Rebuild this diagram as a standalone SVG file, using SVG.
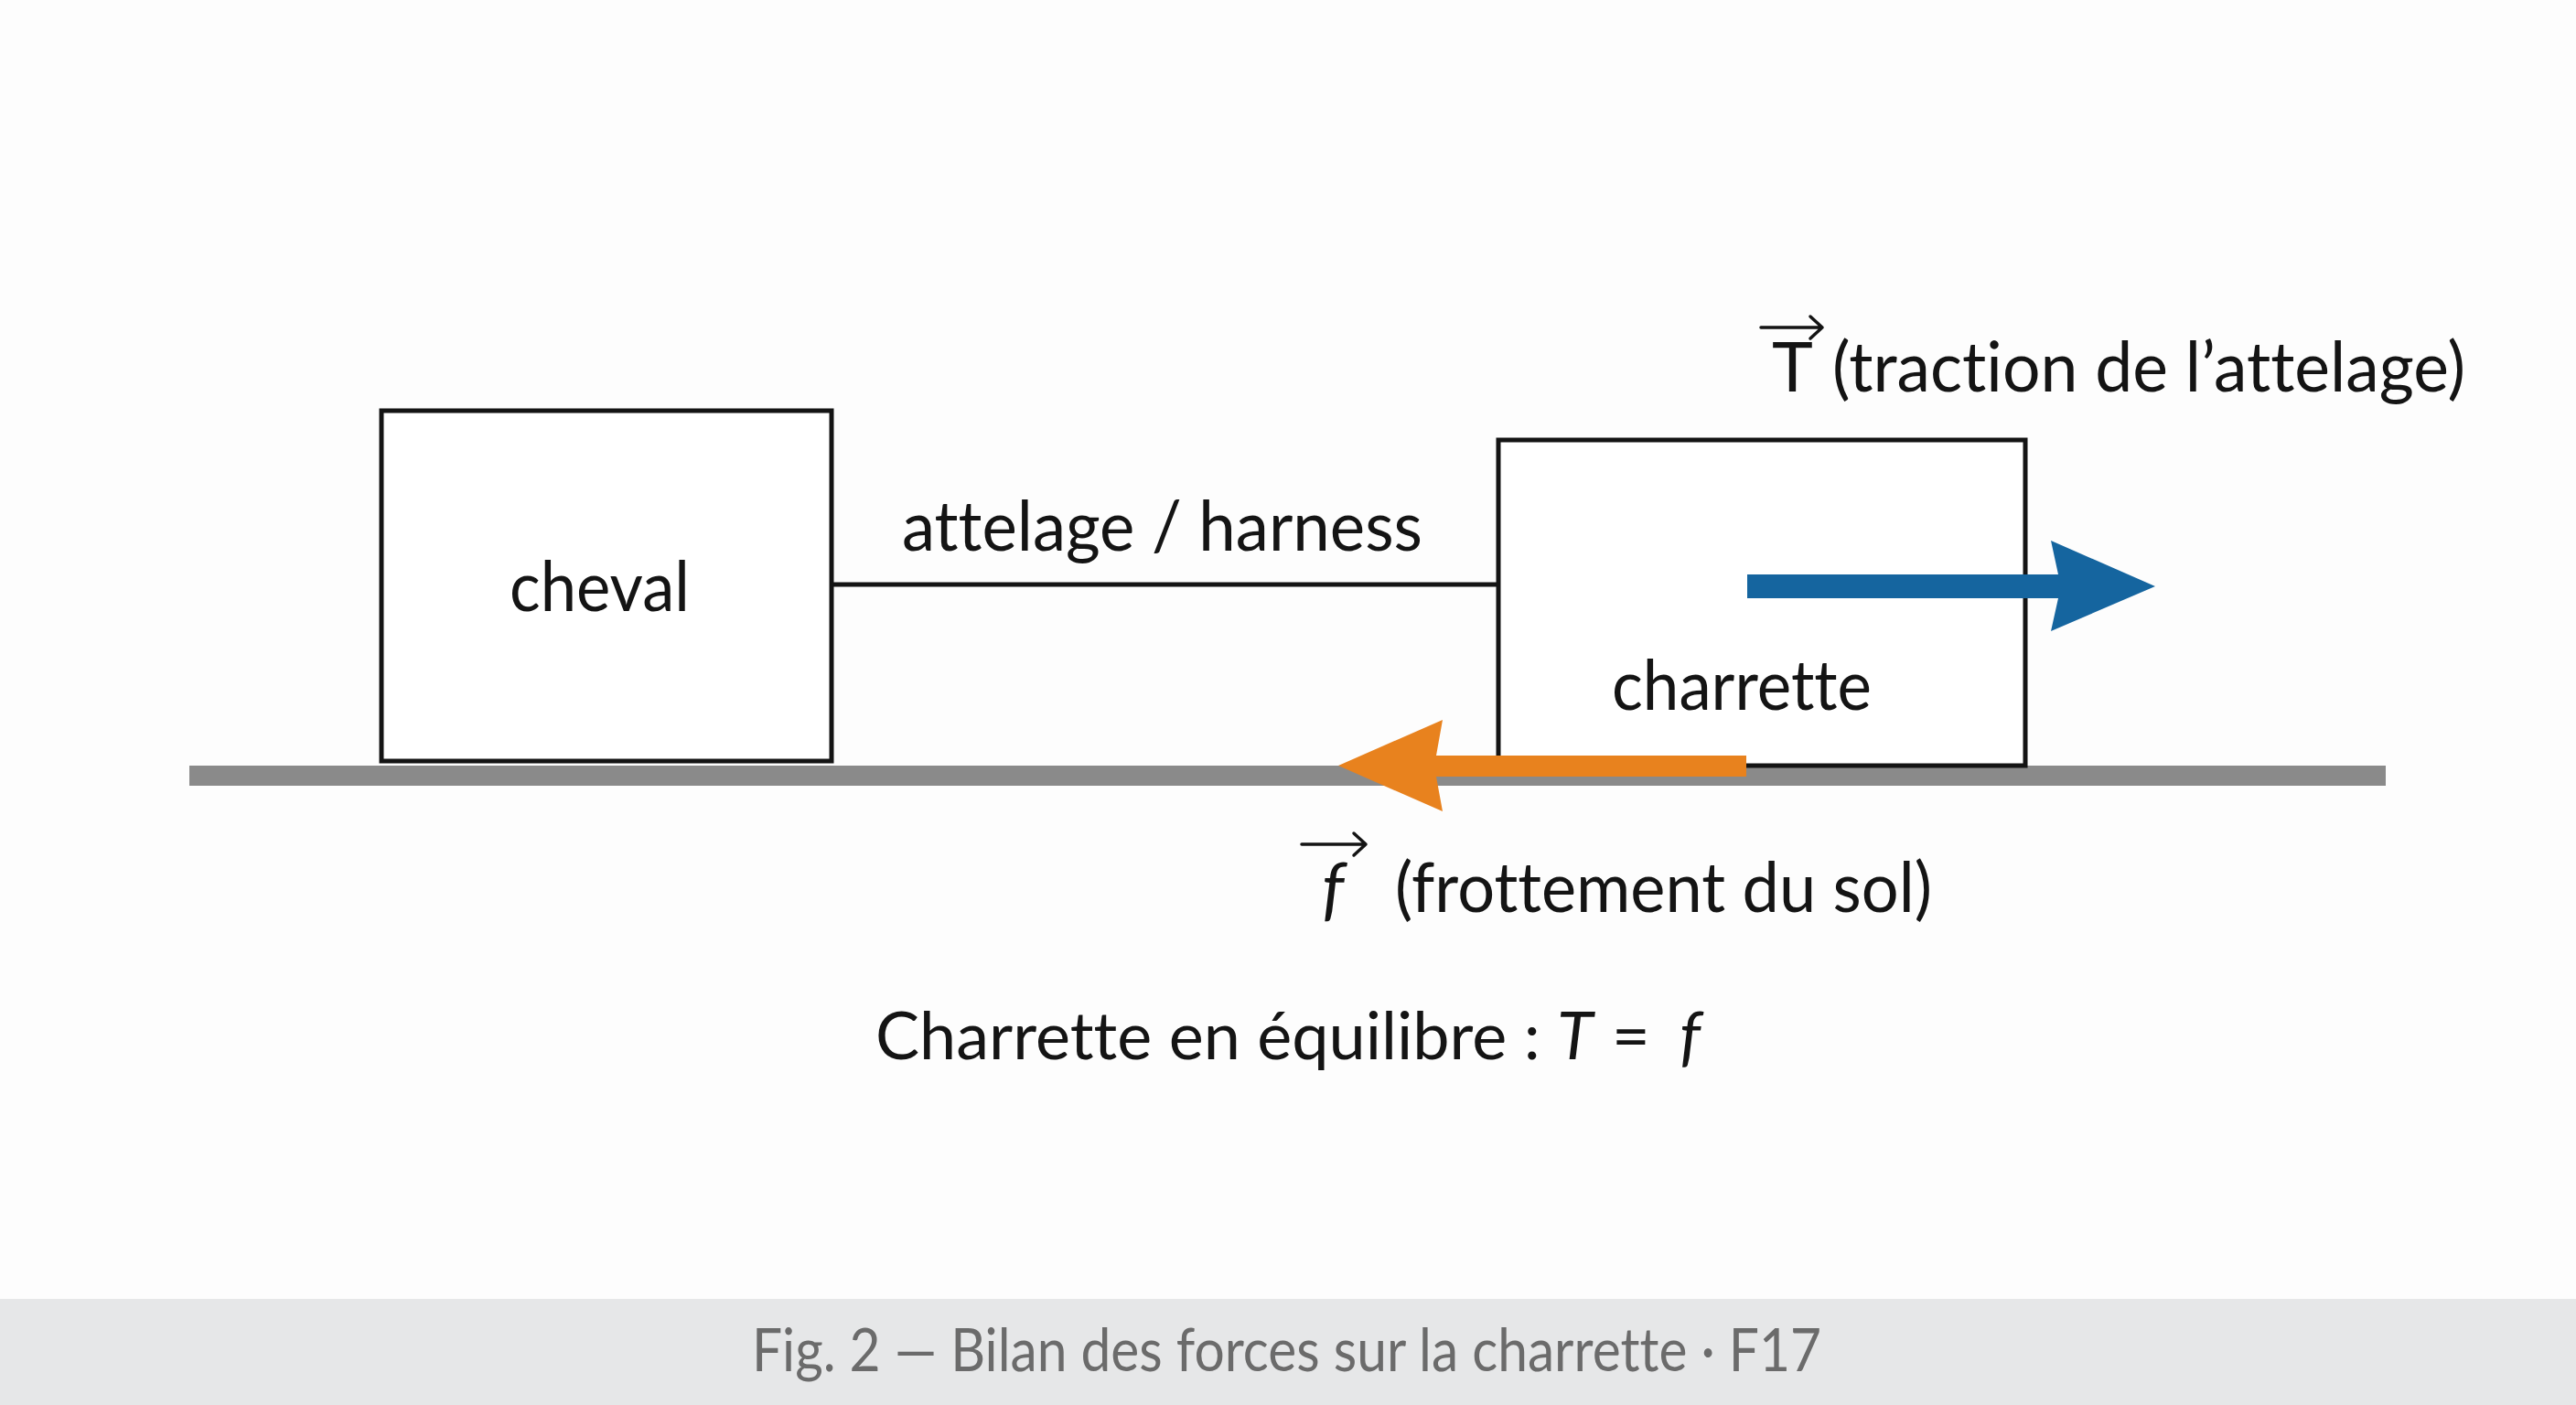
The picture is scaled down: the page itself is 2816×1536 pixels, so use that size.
<svg xmlns="http://www.w3.org/2000/svg" width="2816" height="1536" viewBox="0 0 2816 1536">
  <style>
    text { font-variant-ligatures: none; font-feature-settings: "liga" 0, "clig" 0; }
    .lbl { font-family: Lato, "Noto Sans", "Liberation Sans", sans-serif; font-size: 76px; fill: #141414; }
    .eq { font-family: Lato, "Noto Sans", "Liberation Sans", sans-serif; font-size: 72px; fill: #141414; }
    .it { font-style: italic; }
    .box { fill: #ffffff; stroke: #141414; stroke-width: 5; }
    .vec { fill: none; stroke: #141414; stroke-width: 3.5; stroke-linecap: round; stroke-linejoin: round; }
    .cap { font-family: Lato, "Noto Sans", "Liberation Sans", sans-serif; font-size: 65px; fill: #6b6b6b; }
  </style>
  <rect x="0" y="0" width="2816" height="1536" fill="#fdfdfd"/>
  <rect id="caption-band" x="0" y="1420" width="2816" height="116" fill="#e6e7e8"/>

  <rect id="ground" x="207" y="837" width="2401" height="22" fill="#8a8a8a"/>

  <g id="node-cheval">
    <rect class="box" x="417" y="449" width="492" height="383"/>
    <text class="lbl" x="557" y="668" textLength="197" lengthAdjust="spacingAndGlyphs">cheval</text>
  </g>

  <g id="node-charrette">
    <rect class="box" x="1638" y="481" width="576" height="356"/>
    <text class="lbl" x="1762" y="776" textLength="284" lengthAdjust="spacingAndGlyphs">charrette</text>
  </g>

  <g id="connectors">
    <line id="harness" x1="909" y1="639" x2="1638" y2="639" stroke="#141414" stroke-width="5"/>
    <polygon id="force-T" points="1910,628 2250,628 2242,591 2356,641 2242,690 2250,654 1910,654" fill="#15659f"/>
    <polygon id="force-f" points="1909,826 1570,826 1577,787 1463,837 1577,887 1570,849 1909,849" fill="#e8821e"/>
  </g>

  <g id="label-harness">
    <text class="lbl" x="986" y="602" textLength="569" lengthAdjust="spacingAndGlyphs">attelage / harness</text>
  </g>

  <g id="label-T">
    <path class="vec" d="M1925,358 L1992,358 M1979,346 L1992,358 L1979,370"/>
    <text class="lbl" x="1937" y="428">T</text>
    <text class="lbl" x="2003" y="428" textLength="692" lengthAdjust="spacingAndGlyphs">(traction de l’attelage)</text>
  </g>

  <g id="label-f">
    <path class="vec" d="M1423,923 L1493,923 M1480,911 L1493,923 L1480,935"/>
    <text class="lbl it" x="1445" y="997">f</text>
    <text class="lbl" x="1525" y="997" textLength="587" lengthAdjust="spacingAndGlyphs">(frottement du sol)</text>
  </g>

  <g id="label-equilibre">
    <text class="eq" x="957" y="1158">Charrette en équilibre :</text>
    <text class="eq it" x="1702" y="1158">T</text>
    <text class="eq" x="1762" y="1158">=</text>
    <text class="eq it" x="1836" y="1158">f</text>
  </g>

  <g id="caption">
    <text class="cap" x="822" y="1499" textLength="1169" lengthAdjust="spacingAndGlyphs">Fig. 2 — Bilan des forces sur la charrette · F17</text>
  </g>
</svg>
